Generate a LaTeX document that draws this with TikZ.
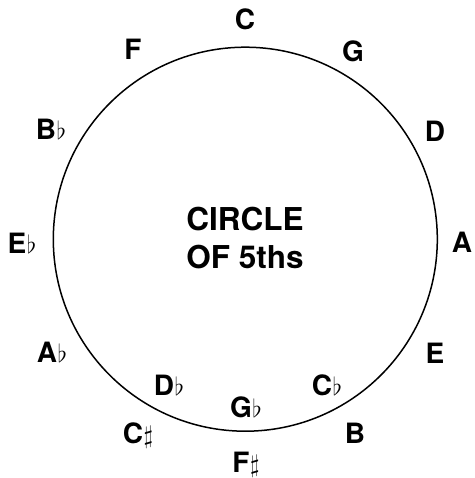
\documentclass[tikz,border=0pt]{standalone}
\usepackage{fontspec}
\setmainfont{TeX Gyre Heros}
\newcommand{\fl}{\kern0.5pt$\flat$}
\newcommand{\sh}{\kern0.5pt$\sharp$}
\tikzset{
  key/.style={anchor=base, inner sep=0pt, font=\fontsize{28}{32}\selectfont\bfseries},
  title/.style={anchor=base, inner sep=0pt, font=\fontsize{31.5}{36}\selectfont\bfseries},
}
\begin{document}
\begin{tikzpicture}[x=1pt,y=-1pt]
\useasboundingbox (0,0) rectangle (474,478);
\node[draw, circle, line width=1.5pt, minimum size=384pt, inner sep=0pt] (ring) at (245.3,239.2) {};
\node[key] (C) at (245,30) {C};
\node[key] (G) at (353,62) {G};
\node[key] (D) at (435,142) {D};
\node[key] (A) at (462,252) {A};
\node[key] (E) at (435,363) {E};
\node[key] (B) at (355,443) {B};
\node[key] (Fs) at (246,472) {F\sh};
\node[key] (Cs) at (138,443) {C\sh};
\node[key] (Ab) at (52,362) {A\fl};
\node[key] (Eb) at (22,253) {E\fl};
\node[key] (Bb) at (51,140) {B\fl};
\node[key] (F) at (133,60) {F};
\node[key] (Db) at (169,395) {D\fl};
\node[key] (Gb) at (246,417) {G\fl};
\node[key] (Cb) at (327,395) {C\fl};
\node[title] (t1) at (245,230) {CIRCLE};
\node[title] (t2) at (245,268) {OF 5ths};
\end{tikzpicture}
\end{document}
